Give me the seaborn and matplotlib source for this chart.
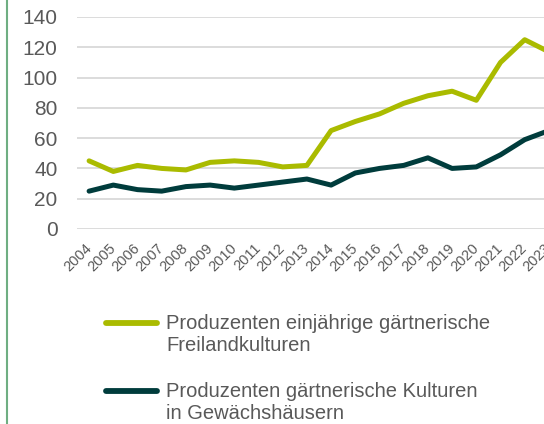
import numpy as np
import pandas as pd
import matplotlib
matplotlib.use("Agg")
import matplotlib.pyplot as plt
from matplotlib.lines import Line2D
from matplotlib.legend_handler import HandlerLine2D
import seaborn as sns

years = [str(y) for y in range(2004, 2024)]
freiland = [45, 38, 42, 40, 39, 44, 45, 44, 41, 42, 65, 71, 76, 83, 88, 91, 85, 110, 125, 117]
gewaechshaus = [25, 29, 26, 25, 28, 29, 27, 29, 31, 33, 29, 37, 40, 42, 47, 40, 41, 49, 59, 65]
labels = ["Produzenten einjährige gärtnerische\nFreilandkulturen",
          "Produzenten gärtnerische Kulturen\nin Gewächshäusern"]
colors = ["#aabb00", "#003c3c"]

df = pd.DataFrame({
    "Jahr": years * 2,
    "Anzahl": freiland + gewaechshaus,
    "Serie": [labels[0]] * len(years) + [labels[1]] * len(years),
})

sns.set_style("white")
plt.rcParams["font.family"] = ["Liberation Sans", "DejaVu Sans"]
grey = "#595959"

fig = plt.figure(figsize=(5.44, 4.24), dpi=100)
ax = fig.add_axes([77 / 544, 1 - 229 / 424, 484 / 544, 212 / 424])

sns.lineplot(data=df, x="Jahr", y="Anzahl", hue="Serie", palette=colors,
             linewidth=3.6, ax=ax, legend=False, sort=False)

ax.set_xlim(-0.5, len(years) - 0.5)
ax.set_ylim(0, 140)
ax.set_yticks(range(0, 141, 20))
ax.yaxis.grid(True, color="#d9d9d9", linewidth=1.3)
ax.set_axisbelow(True)
for s in ax.spines.values():
    s.set_visible(False)
ax.set_xlabel("")
ax.set_ylabel("")
ax.tick_params(axis="y", length=0, pad=14, labelsize=15, labelcolor=grey)
ax.tick_params(axis="x", length=0, pad=12, labelsize=10.5, labelcolor=grey)
for lab in ax.get_xticklabels():
    lab.set_rotation(45)
    lab.set_ha("right")
    lab.set_va("center")
    lab.set_rotation_mode("anchor")


class UpHandler(HandlerLine2D):
    def create_artists(self, legend, orig_handle, xdescent, ydescent, width,
                       height, fontsize, trans):
        arts = super().create_artists(legend, orig_handle, xdescent, ydescent,
                                      width, height, fontsize, trans)
        for a in arts:
            a.set_ydata(np.asarray(a.get_ydata()) + 8.5)
        return arts


handles = [Line2D([], [], color=c, linewidth=4.2, solid_capstyle="round") for c in colors]
fig.legend(handles, labels, loc="upper left",
           bbox_to_anchor=(106 / 544, 1 - 314 / 424), frameon=False,
           fontsize=14.5, labelcolor=grey, handlelength=2.55, handletextpad=0.45,
           labelspacing=1.35, borderpad=0, borderaxespad=0,
           handler_map={Line2D: UpHandler()})

fig.add_artist(Line2D([6.5 / 544, 6.5 / 544], [0, 1], transform=fig.transFigure,
                      color="#6fae82", linewidth=1.5))

fig.savefig("out.png", dpi=100)
